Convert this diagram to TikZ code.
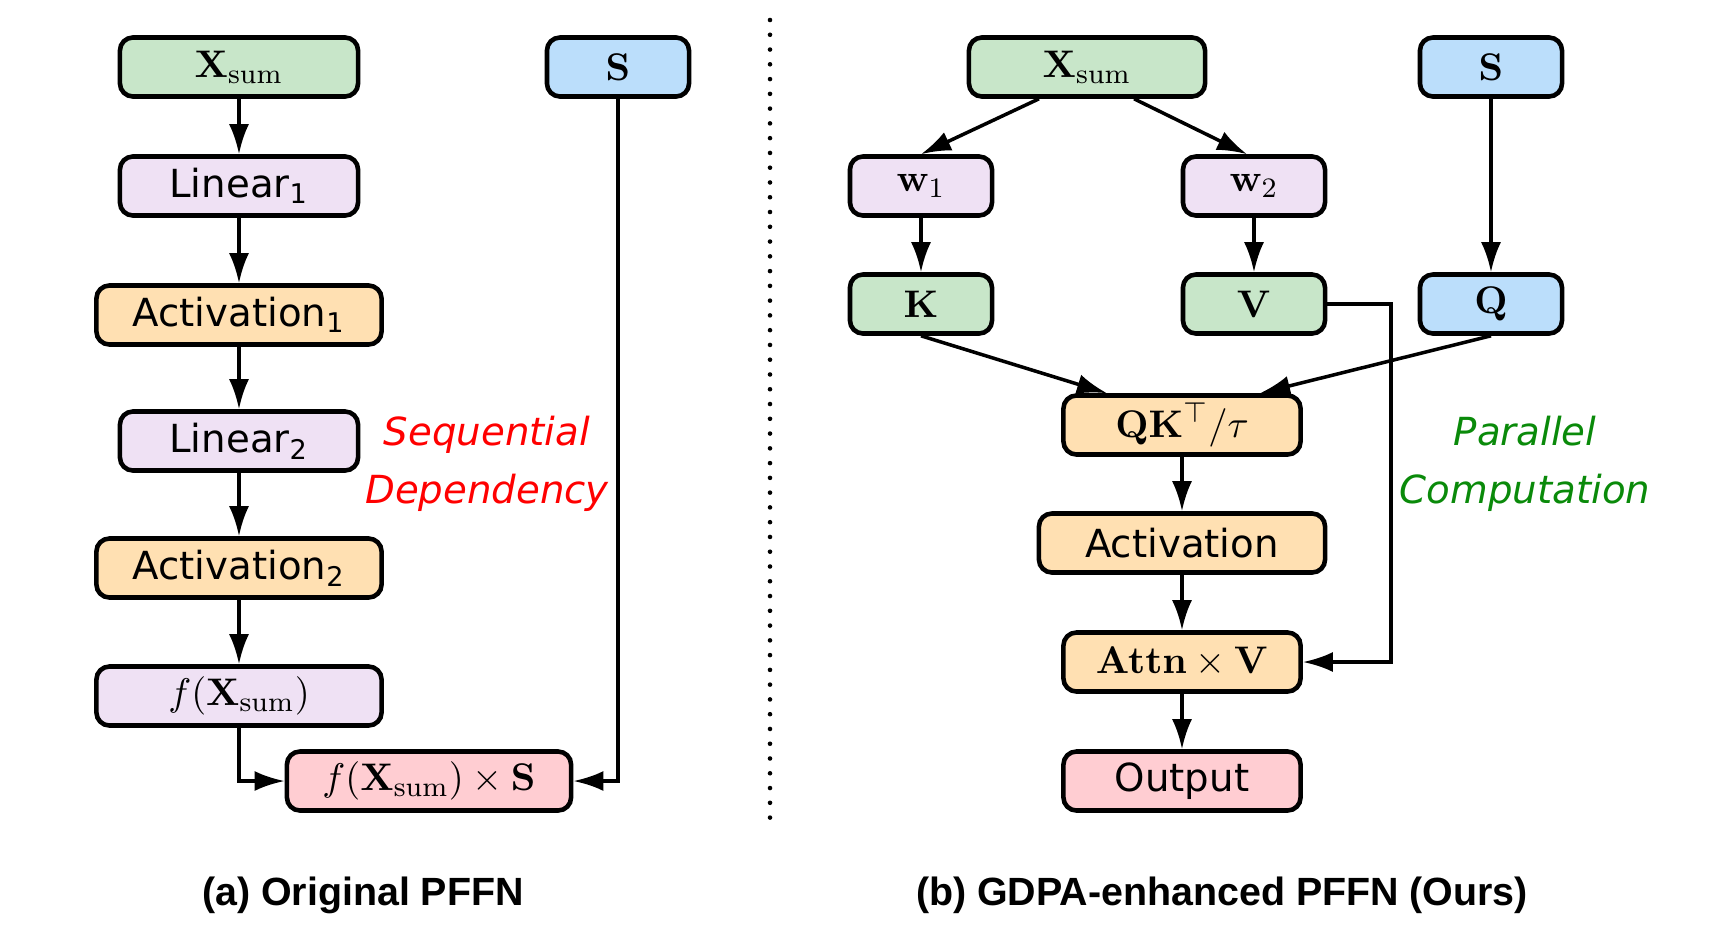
\documentclass[tikz,border=0pt]{standalone}
\usepackage[no-math]{fontspec}
\setmainfont{DejaVu Sans}
\newfontfamily\capfont{Liberation Sans}
\usepackage{tikz}
\usetikzlibrary{arrows.meta,positioning}
\definecolor{inpgreen}{HTML}{C8E6C9}
\definecolor{linpurple}{HTML}{EFE1F4}
\definecolor{actorange}{HTML}{FFE0B2}
\definecolor{sblue}{HTML}{BBDEFB}
\definecolor{outpink}{HTML}{FFCDD2}
\definecolor{pargreen}{HTML}{0A8A0A}
\tikzset{
    blk/.style={draw, line width=1.3pt, rounded corners=0.13cm, minimum height=0.59cm, inner sep=0pt,
        font=\fontsize{11}{13}\selectfont},
    arr/.style={-{Latex[length=3mm,width=2mm]}, line width=1pt},
    note/.style={font=\fontsize{11}{13}\selectfont\itshape, align=center},
    captext/.style={font=\capfont\fontsize{11.2}{14}\selectfont\bfseries}
}

\begin{document}
\begin{tikzpicture}[x=0.01cm, y=-0.01cm]
    \useasboundingbox (0,0) rectangle (1715,945);
    % left: original PFFN
    \node[blk, fill=inpgreen, minimum width=2.38cm] (xa) at (239, 67) {$\mathbf{X}_{\mathrm{sum}}$};
    \node[blk, fill=linpurple, minimum width=2.38cm] (la) at (239, 186) {Linear\textsubscript{1}};
    \node[blk, fill=actorange, minimum width=2.85cm] (aa) at (239, 315) {Activation\textsubscript{1}};
    \node[blk, fill=linpurple, minimum width=2.38cm] (lb) at (239, 441) {Linear\textsubscript{2}};
    \node[blk, fill=actorange, minimum width=2.85cm] (ab) at (239, 568) {Activation\textsubscript{2}};
    \node[blk, fill=linpurple, minimum width=2.85cm] (fa) at (239, 696) {$f(\mathbf{X}_{\mathrm{sum}})$};
    \node[blk, fill=outpink, minimum width=2.84cm] (fs) at (429, 781) {$f(\mathbf{X}_{\mathrm{sum}})\times\mathbf{S}$};
    \node[blk, fill=sblue, minimum width=1.42cm] (sa) at (618, 67) {$\mathbf{S}$};
    \node[note, text=red] (seq) at (487, 464) {Sequential\\[0.12cm]Dependency};
    \draw[arr] (xa) -- (la);
    \draw[arr] (la) -- (aa);
    \draw[arr] (aa) -- (lb);
    \draw[arr] (lb) -- (ab);
    \draw[arr] (ab) -- (fa);
    \draw[arr] (fa) |- (fs);
    \draw[arr] (sa) |- (fs);
    \draw[line width=1.3pt, dash pattern=on 0pt off 4.2pt, line cap=round] (770, 20) -- (770, 818);
    % right: GDPA-enhanced PFFN
    \node[blk, fill=inpgreen, minimum width=2.36cm] (xb) at (1087, 67) {$\mathbf{X}_{\mathrm{sum}}$};
    \node[blk, fill=sblue, minimum width=1.42cm] (sb) at (1491, 67) {$\mathbf{S}$};
    \node[blk, fill=linpurple, minimum width=1.42cm] (wa) at (921, 186) {$\mathbf{w}_1$};
    \node[blk, fill=linpurple, minimum width=1.42cm] (wb) at (1254, 186) {$\mathbf{w}_2$};
    \node[blk, fill=inpgreen, minimum width=1.42cm] (k) at (921, 304) {$\mathbf{K}$};
    \node[blk, fill=inpgreen, minimum width=1.42cm] (v) at (1254, 304) {$\mathbf{V}$};
    \node[blk, fill=sblue, minimum width=1.42cm] (q) at (1491, 304) {$\mathbf{Q}$};
    \node[blk, fill=actorange, minimum width=2.37cm] (qk) at (1182, 425) {$\mathbf{QK}^{\top}/\tau$};
    \node[blk, fill=actorange, minimum width=2.86cm] (act) at (1182, 543) {Activation};
    \node[blk, fill=actorange, minimum width=2.37cm] (att) at (1182, 662) {$\mathbf{Attn}\times\mathbf{V}$};
    \node[blk, fill=outpink, minimum width=2.37cm] (out) at (1182, 781) {Output};
    \coordinate (vr) at (1391, 304);
    \node[note, text=pargreen] (par) at (1525, 464) {Parallel\\[0.12cm]Computation};
    \draw[arr] ([xshift=-0.48cm]xb.south) -- (wa.north);
    \draw[arr] ([xshift=0.47cm]xb.south) -- ([xshift=-0.07cm]wb.north);
    \draw[arr] (wa) -- (k);
    \draw[arr] (wb) -- (v);
    \draw[arr] (sb) -- (q);
    \draw[arr] (k.south) -- ([xshift=-0.75cm]qk.north);
    \draw[arr] (q.south) -- ([xshift=0.78cm]qk.north);
    \draw[arr] (qk) -- (act);
    \draw[arr] (act) -- (att);
    \draw[arr] (att) -- (out);
    \draw[arr] (v) -- (vr) |- (att);
    % captions
    \node[captext] (capa) at (363, 895) {(a) Original PFFN};
    \node[captext] (capb) at (1222, 895) {(b) GDPA-enhanced PFFN (Ours)};
\end{tikzpicture}
\end{document}
